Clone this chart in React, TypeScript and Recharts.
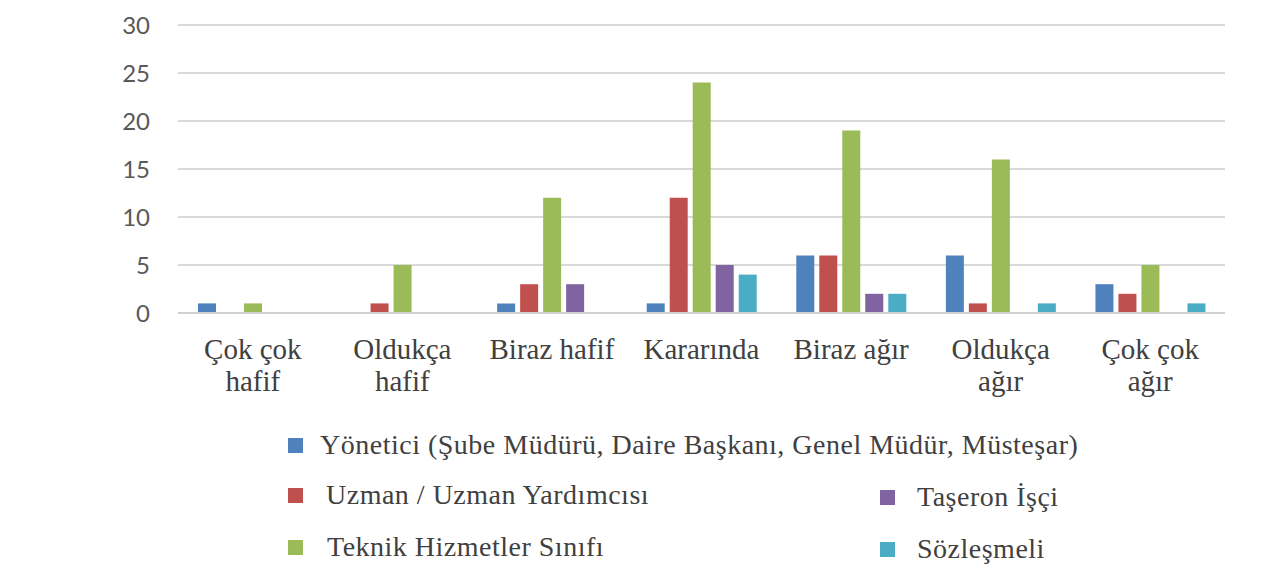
import React from "react";
import { Bar, BarChart, CartesianGrid, XAxis, YAxis } from "recharts";

// categories (line breaks as in the source figure)
const categories = [
  "Çok çok\nhafif",
  "Oldukça\nhafif",
  "Biraz hafif",
  "Kararında",
  "Biraz ağır",
  "Oldukça\nağır",
  "Çok çok\nağır",
];

const yonetici = [1, 0, 1, 1, 6, 6, 3];
const uzman = [0, 1, 3, 12, 6, 1, 2];
const teknik = [1, 5, 12, 24, 19, 16, 5];
const taseron = [0, 0, 3, 5, 2, 0, 0];
const sozlesmeli = [0, 0, 0, 4, 2, 1, 1];

const yTicks = [0, 5, 10, 15, 20, 25, 30];

const SERIES = [
  { key: "yonetici", name: "Yönetici (Şube Müdürü, Daire Başkanı, Genel Müdür, Müsteşar)", color: "#4f81bd", values: yonetici },
  { key: "uzman", name: "Uzman / Uzman Yardımcısı", color: "#c0504d", values: uzman },
  { key: "teknik", name: "Teknik Hizmetler Sınıfı", color: "#9bbb59", values: teknik },
  { key: "taseron", name: "Taşeron İşçi", color: "#8064a2", values: taseron },
  { key: "sozlesmeli", name: "Sözleşmeli", color: "#4bacc6", values: sozlesmeli },
];

const data = categories.map((c, i) => {
  const row: Record<string, string | number> = { name: c };
  SERIES.forEach((s) => (row[s.key] = s.values[i]));
  return row;
});

// legend placement (two columns, like the original)
const LEGEND_POS: Record<string, { left: number; top: number; textLeft: number }> = {
  yonetici: { left: 288, top: 438, textLeft: 320 },
  uzman: { left: 288, top: 488, textLeft: 326 },
  teknik: { left: 288, top: 540, textLeft: 327 },
  taseron: { left: 880, top: 490, textLeft: 917 },
  sozlesmeli: { left: 880, top: 542, textLeft: 917 },
};

const TEXT = "#404040";
const SERIF = "Liberation Serif";
const FRAME = "#555";

function CategoryTick({ x, y, payload }: any) {
  const lines = String(payload.value).split("\n");
  return (
    <text x={x} y={y + 44} textAnchor="middle" fill={TEXT} fontFamily={SERIF} fontSize={29}>
      {lines.map((l, i) => (
        <tspan key={i} x={x} dy={i === 0 ? 0 : 32}>
          {l}
        </tspan>
      ))}
    </text>
  );
}

export default function App() {
  return (
    <div style={{ position: "relative", width: 1286, height: 577, margin: -8, background: "#fff", overflow: "hidden" }}>
      <BarChart
        width={1286}
        height={420}
        data={data}
        margin={{ top: 25, right: 61, left: 0, bottom: 0 }}
        barSize={18}
        barGap={5}
      >
        <CartesianGrid vertical={false} stroke="#d9d9d9" strokeWidth={2} />
        <XAxis
          dataKey="name"
          height={107}
          tickLine={false}
          tickSize={0}
          axisLine={{ stroke: "#d0d0d0", strokeWidth: 2 }}
          tick={<CategoryTick />}
          interval={0}
        />
        <YAxis
          width={178}
          domain={[0, 30]}
          ticks={yTicks}
          tickLine={false}
          axisLine={false}
          tickSize={0}
          tickMargin={28}
          tick={{ fill: "#595959", fontSize: 24, fontFamily: "Lato" }}
        />
        {SERIES.map((s) => (
          <Bar key={s.key} dataKey={s.key} name={s.name} fill={s.color} isAnimationActive={false} />
        ))}
        {/* frame edges drawn in the chart surface as well */}
        <rect x={4} y={1} width={1282} height={2} fill={FRAME} />
        <rect x={4} y={1} width={2} height={419} fill={FRAME} />
      </BarChart>

      {/* legend */}
      {SERIES.map((s) => {
        const p = LEGEND_POS[s.key];
        return (
          <React.Fragment key={s.key}>
            <span
              style={{ position: "absolute", left: p.left, top: p.top, width: 15, height: 15, background: s.color }}
            />
            <span
              style={{
                position: "absolute",
                left: p.textLeft,
                top: p.top - 13,
                fontFamily: SERIF,
                fontSize: 28,
                letterSpacing: 0.5,
                color: TEXT,
                whiteSpace: "nowrap",
                lineHeight: "40px",
              }}
            >
              {s.name}
            </span>
          </React.Fragment>
        );
      })}

      {/* frame: left and top edges, as solid strips */}
      <div style={{ position: "absolute", left: 4, top: 1, width: 2, height: 576, background: FRAME, zIndex: 5 }} />
      <div style={{ position: "absolute", left: 4, top: 1, width: 1282, height: 2, background: FRAME, zIndex: 5 }} />
    </div>
  );
}
